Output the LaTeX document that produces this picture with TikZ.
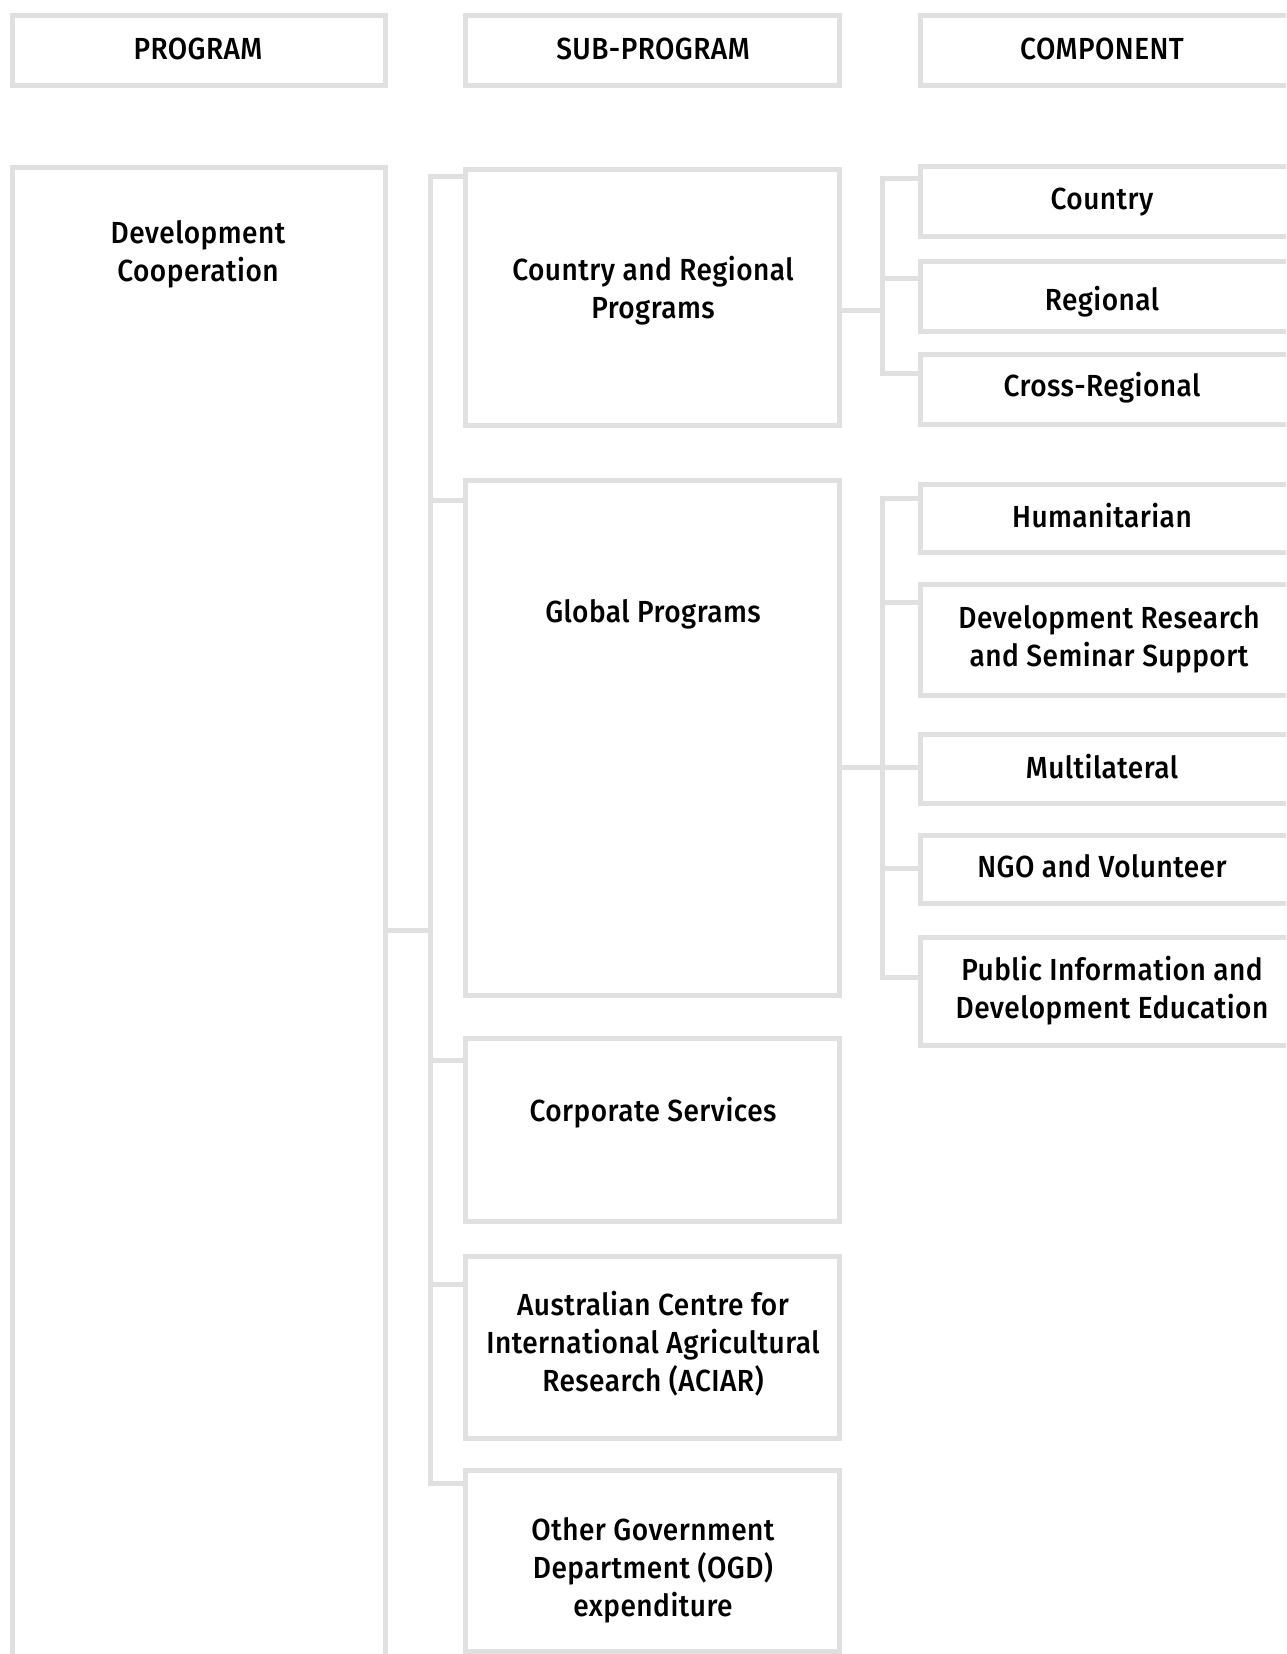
\documentclass[tikz,border=0pt]{standalone}
\usepackage{fontspec}
\setmainfont{Fira Sans}[UprightFont=* Medium, FakeStretch=0.92, LetterSpace=1.5]
\usetikzlibrary{fit}
\definecolor{linegray}{HTML}{E0E0E0}
\tikzset{
  box/.style={draw=linegray, line width=5pt, inner sep=0pt, outer sep=0pt, line join=miter},
  conn/.style={draw=linegray, line width=5pt, line join=miter},
  txt/.style={text=black, inner sep=0pt, align=center, font=\fontsize{30.5}{38}\selectfont, anchor=base}
}
\newcommand{\mybox}[5]{\node[box, fit={(#2,#3) (#4,#5)}] (#1) {};}
\begin{document}
\begin{tikzpicture}[x=1pt,y=-1pt]
\useasboundingbox (0,0) rectangle (1286,1654);
\clip (0,0) rectangle (1286,1654);
% headers
\mybox{hprog}{12.5}{15.5}{385.5}{85.5}
\mybox{hsub}{465.5}{15.5}{839.5}{85.5}
\mybox{hcomp}{920.5}{15.5}{1310}{85.5}
\node[txt] (thprog) at (198,59.5) {PROGRAM};
\node[txt] (thsub) at (653,59.5) {SUB-PROGRAM};
\node[txt] (thcomp) at (1102,59.5) {COMPONENT};
% program
\mybox{prog}{12.5}{167.5}{385.5}{1720}
\node[txt] (tprog) at (198,281.5) {Development\\Cooperation};
% sub-programs
\mybox{crp}{465.5}{169.5}{839.5}{425.5}
\mybox{glob}{465.5}{480.5}{839.5}{995.5}
\mybox{corp}{465.5}{1038.5}{839.5}{1221.5}
\mybox{aciar}{465.5}{1256.5}{839.5}{1438.5}
\mybox{ogd}{465.5}{1470}{839.5}{1651.5}
\node[txt] (tcrp) at (653,318.5) {Country and Regional\\Programs};
\node[txt] (tglob) at (653,622) {Global Programs};
\node[txt] (tcorp) at (653,1121) {Corporate Services};
\node[txt] (taciar) at (653,1391) {Australian Centre for\\International Agricultural\\Research (ACIAR)};
\node[txt] (togd) at (653,1616) {Other Government\\Department (OGD)\\expenditure};
% components
\mybox{cty}{920.5}{166.5}{1310}{236.5}
\mybox{reg}{920.5}{261.5}{1310}{331.5}
\mybox{xreg}{920.5}{354.5}{1310}{424.5}
\mybox{hum}{920.5}{484.5}{1310}{552.5}
\mybox{dev}{920.5}{584.5}{1310}{695.5}
\mybox{mul}{920.5}{734.5}{1310}{803.5}
\mybox{ngo}{920.5}{835.5}{1310}{903.5}
\mybox{pub}{920.5}{937.5}{1310}{1045.5}
\node[txt] (tcty) at (1102,209.5) {Country};
\node[txt] (treg) at (1102,310) {Regional};
\node[txt] (txreg) at (1102,396.5) {Cross-Regional};
\node[txt] (thum) at (1102,527) {Humanitarian};
\node[txt] (tdev) at (1109,666) {Development Research\\and Seminar Support};
\node[txt] (tmul) at (1102,778) {Multilateral};
\node[txt] (tngo) at (1102,877) {NGO and Volunteer};
\node[txt] (tpub) at (1112,1018.5) {Public Information and\\Development Education};
% main trunk
\coordinate (tA) at (430,176);
\coordinate (tB) at (430,1483);
\coordinate (j0) at (430,930);
\coordinate (j2) at (430,500);
\coordinate (j3) at (430,1060);
\coordinate (j4) at (430,1284);
\draw[conn] (crp.west |- tA) -- (tA) -- (tB) -- (ogd.west |- tB);
\draw[conn] (prog.east |- j0) -- (j0);
\draw[conn] (j2) -- (glob.west |- j2);
\draw[conn] (j3) -- (corp.west |- j3);
\draw[conn] (j4) -- (aciar.west |- j4);
% component trunk 1
\coordinate (cA) at (882,178);
\coordinate (cB) at (882,373);
\coordinate (cJ) at (882,310);
\coordinate (cM) at (882,278);
\draw[conn] (cty.west |- cA) -- (cA) -- (cB) -- (xreg.west |- cB);
\draw[conn] (crp.east |- cJ) -- (cJ);
\draw[conn] (cM) -- (reg.west |- cM);
% component trunk 2
\coordinate (gA) at (882,498);
\coordinate (gB) at (882,977);
\coordinate (gJ) at (882,767);
\coordinate (g2) at (882,602);
\coordinate (g4) at (882,868);
\draw[conn] (hum.west |- gA) -- (gA) -- (gB) -- (pub.west |- gB);
\draw[conn] (glob.east |- gJ) -- (mul.west |- gJ);
\draw[conn] (g2) -- (dev.west |- g2);
\draw[conn] (g4) -- (ngo.west |- g4);
\end{tikzpicture}
\end{document}
